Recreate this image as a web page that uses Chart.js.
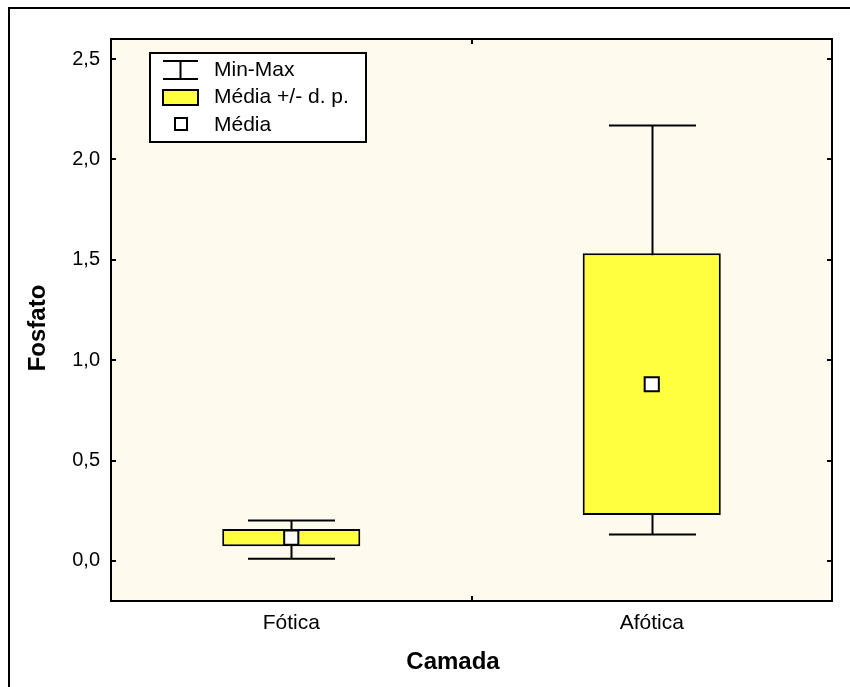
<!DOCTYPE html>
<html>
<head>
<meta charset="utf-8">
<script src="https://cdn.jsdelivr.net/npm/chart.js@4.4.1/dist/chart.umd.min.js"></script>
<style>
  html, body { margin: 0; padding: 0; background: #ffffff; }
  #wrap { width: 850px; height: 687px; position: relative; }
</style>
</head>
<body>
<div id="wrap"><canvas id="c" width="850" height="687"></canvas></div>
<script>
// Phosphate by layer: mean, standard deviation, min and max
const categories = ['Fótica', 'Afótica'];
const means = [0.116, 0.880];
const stdDevs = [0.043, 0.652];
const minValues = [0.010, 0.131];
const maxValues = [0.201, 2.169];
const yTicks = [0, 0.5, 1.0, 1.5, 2.0, 2.5];

const boxRanges = means.map((m, i) => [m - stdDevs[i], m + stdDevs[i]]);

const FONT = "'Liberation Sans', Arial, sans-serif";
const PLOT_BG = '#fefaee';
const BOX_FILL = '#ffff40';

const fmt = v => v.toFixed(1).replace('.', ',');

// Cream plot background and outer page frame
const backdrop = {
  id: 'backdrop',
  beforeDraw(chart) {
    const {ctx, chartArea: a} = chart;
    ctx.save();
    ctx.fillStyle = PLOT_BG;
    ctx.fillRect(a.left, a.top, a.right - a.left, a.bottom - a.top);
    ctx.strokeStyle = '#000';
    ctx.lineWidth = 2;
    ctx.beginPath();
    ctx.moveTo(9, chart.height);
    ctx.lineTo(9, 8);
    ctx.lineTo(chart.width, 8);
    ctx.stroke();
    ctx.restore();
  }
};

// Min-Max whiskers, drawn behind the boxes
const whiskers = {
  id: 'whiskers',
  beforeDatasetsDraw(chart) {
    const {ctx, scales: {x, y}} = chart;
    const bars = chart.getDatasetMeta(0).data;
    ctx.save();
    ctx.strokeStyle = '#000';
    ctx.lineWidth = 2;
    categories.forEach((c, i) => {
      const cx = Math.round(x.getPixelForValue(i)) + 0.5;
      const half = bars[i].width * 0.315;
      const yTop = y.getPixelForValue(maxValues[i]);
      const yBot = y.getPixelForValue(minValues[i]);
      ctx.beginPath();
      ctx.moveTo(cx, yTop); ctx.lineTo(cx, yBot);
      ctx.moveTo(cx - half, yTop); ctx.lineTo(cx + half, yTop);
      ctx.moveTo(cx - half, yBot); ctx.lineTo(cx + half, yBot);
      ctx.stroke();
    });
    ctx.restore();
  }
};

// Plot frame, inward ticks, axis titles and the legend box
const frame = {
  id: 'frame',
  afterDraw(chart) {
    const {ctx, chartArea: a, scales: {x, y}} = chart;
    ctx.save();
    ctx.strokeStyle = '#000';
    ctx.lineWidth = 2;
    ctx.strokeRect(a.left, a.top, a.right - a.left, a.bottom - a.top);
    ctx.beginPath();
    yTicks.forEach(v => {
      const py = Math.round(y.getPixelForValue(v));
      ctx.moveTo(a.left, py); ctx.lineTo(a.left + 5, py);
      ctx.moveTo(a.right, py); ctx.lineTo(a.right - 5, py);
    });
    for (let i = 1; i < categories.length; i++) {
      const px = Math.round((x.getPixelForValue(i - 1) + x.getPixelForValue(i)) / 2);
      ctx.moveTo(px, a.top); ctx.lineTo(px, a.top + 5);
      ctx.moveTo(px, a.bottom); ctx.lineTo(px, a.bottom - 5);
    }
    ctx.stroke();

    // axis titles
    ctx.fillStyle = '#000';
    ctx.font = 'bold 24px ' + FONT;
    ctx.textAlign = 'center';
    ctx.textBaseline = 'middle';
    ctx.fillText('Camada', 453, 662);
    ctx.save();
    ctx.translate(38, 328);
    ctx.rotate(-Math.PI / 2);
    ctx.fillText('Fosfato', 0, 0);
    ctx.restore();

    // legend
    const lx = 150, ly = 53, lw = 216, lh = 89;
    ctx.fillStyle = '#fff';
    ctx.fillRect(lx, ly, lw, lh);
    ctx.lineWidth = 2;
    ctx.strokeRect(lx, ly, lw, lh);

    ctx.beginPath();
    ctx.moveTo(163, 61); ctx.lineTo(198, 61);
    ctx.moveTo(163, 79); ctx.lineTo(198, 79);
    ctx.moveTo(180.5, 61); ctx.lineTo(180.5, 79);
    ctx.stroke();

    ctx.fillStyle = BOX_FILL;
    ctx.fillRect(163, 90, 35, 15);
    ctx.strokeRect(163, 90, 35, 15);

    ctx.fillStyle = '#fff';
    ctx.fillRect(175, 118, 12, 12);
    ctx.strokeRect(175, 118, 12, 12);

    ctx.fillStyle = '#000';
    ctx.font = '21px ' + FONT;
    ctx.textBaseline = 'middle';
    ctx.textAlign = 'left';
    ctx.fillText('Min-Max', 214, 70);
    ctx.fillText('Média +/- d. p.', 214, 97);
    ctx.fillText('Média', 214, 125);
    ctx.restore();
  }
};

new Chart(document.getElementById('c'), {
  type: 'bar',
  data: {
    labels: categories,
    datasets: [
      {
        label: 'Média +/- d. p.',
        data: boxRanges,
        backgroundColor: BOX_FILL,
        borderColor: '#000',
        borderWidth: 2,
        borderSkipped: false,
        categoryPercentage: 1,
        barPercentage: 0.383,
        order: 2
      },
      {
        type: 'line',
        label: 'Média',
        data: means,
        showLine: false,
        pointStyle: 'rect',
        pointRadius: 10,
        pointHoverRadius: 10,
        pointBackgroundColor: '#fff',
        pointBorderColor: '#000',
        pointBorderWidth: 2,
        order: 1
      }
    ]
  },
  options: {
    responsive: false,
    animation: false,
    layout: { padding: { top: 39, right: 18, bottom: 0, left: 0 } },
    plugins: { legend: { display: false }, tooltip: { enabled: false } },
    scales: {
      x: {
        grid: { display: false, drawTicks: false },
        border: { display: false },
        ticks: { color: '#000', font: { family: FONT, size: 21 }, padding: 10 },
        afterFit(s) { s.height = 86; }
      },
      y: {
        min: -0.2,
        max: 2.6,
        afterBuildTicks(s) { s.ticks = yTicks.map(v => ({ value: v })); },
        grid: { display: false, drawTicks: false },
        border: { display: false },
        ticks: { color: '#000', font: { family: FONT, size: 20 }, padding: 11, callback: v => fmt(v) },
        afterFit(s) { s.width = 111; }
      }
    }
  },
  plugins: [backdrop, whiskers, frame]
});
</script>
</body>
</html>
